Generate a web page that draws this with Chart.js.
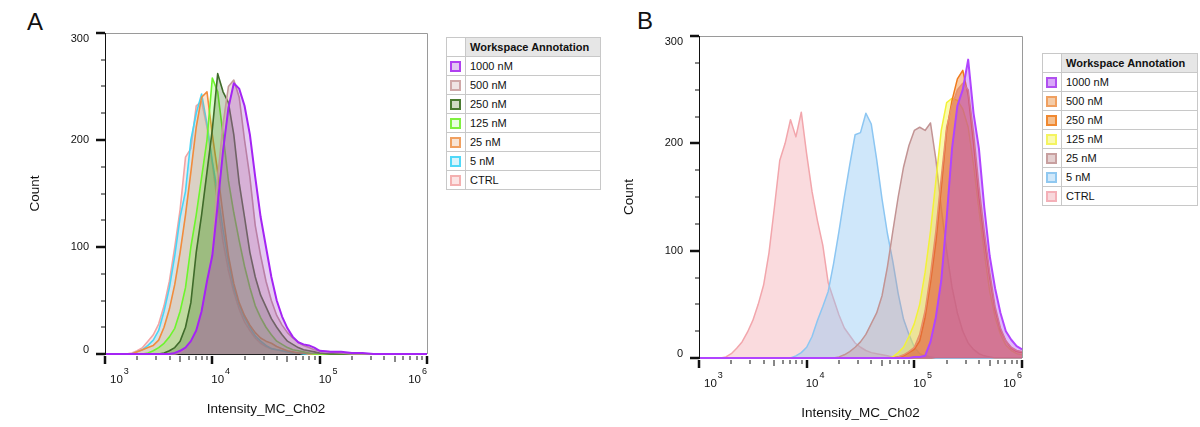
<!DOCTYPE html>
<html>
<head>
<meta charset="utf-8">
<title>Intensity_MC_Ch02 overlays</title>
<script src="https://cdn.jsdelivr.net/npm/chart.js@4.4.1/dist/chart.umd.min.js"></script>
<style>
    body { margin: 0; background: #fff; font-family: 'Liberation Sans', Arial, sans-serif; color: #111; }
    #page { position: relative; width: 1200px; height: 427px; overflow: hidden; }
    .plot { position: absolute; top: 0; height: 427px; }
    .tag { position: absolute; font-size: 24px; line-height: 24px; }
    .key { position: absolute; border-collapse: collapse; font-size: 11px; border: 1px solid #8c8c8c; }
    .key td { border: 1px solid #c8c8c8; height: 18px; padding: 0 0 0 4px; white-space: nowrap; }
    .key td.sw { width: 15px; padding: 0 0 0 3px; }
    .key th { height: 18px; border: 1px solid #c8c8c8; text-align: left; padding: 0 0 0 4px; background: #e6e6e6; }
    .key th.sw { background: #fff; }
    .box { width: 7px; height: 7px; border: 2px solid #000; }
</style>
</head>
<body>
<div id="page">
    <div class="tag" style="left:27px; top:10px;">A</div>
    <div class="tag" style="left:637px; top:9px;">B</div>
    <div class="plot" style="left:0; width:440px;"><canvas id="chartA" width="440" height="427"></canvas></div>
    <div class="plot" style="left:605px; width:435px;"><canvas id="chartB" width="435" height="427"></canvas></div>
    <table class="key" id="keyA" style="left:446px; top:37px; width:155px;"></table>
    <table class="key" id="keyB" style="left:1042px; top:53px; width:156px;"></table>
</div>

<script>
// log10 bin centres for panel A
const binsA = [
    3.0, 3.2, 3.25, 3.3, 3.35, 3.4, 3.45, 3.5, 3.55, 3.6, 3.65,
    3.7, 3.75, 3.8, 3.85, 3.9, 3.95, 4.0, 4.05, 4.1, 4.15, 4.2,
    4.25, 4.3, 4.35, 4.4, 4.45, 4.5, 4.55, 4.6, 4.65, 4.7, 4.75,
    4.8, 4.85, 4.9, 4.95, 5.0, 5.1, 5.2, 5.3, 5.4, 5.5, 6.0
];

// panel A counts per bin
const a1000 = [
    0, 0, 0, 0, 0, 0, 0, 0, 0, 0, 1,
    3, 6, 12, 22, 40, 68, 92, 140, 190, 230, 253,
    248, 232, 205, 165, 128, 100, 72, 50, 35, 24, 16,
    11, 9, 8, 6, 3, 2, 2, 1, 1, 0, 0
];
const a500 = [
    0, 0, 0, 0, 0, 0, 0, 0, 0, 0, 0,
    1, 5, 12, 22, 40, 65, 95, 165, 215, 250, 256,
    240, 200, 165, 120, 92, 68, 50, 36, 27, 20, 15,
    11, 8, 6, 4, 3, 2, 1, 0, 0, 0, 0
];
const a250 = [
    0, 0, 0, 0, 0, 0, 0, 0, 1, 3, 6,
    12, 25, 48, 95, 130, 170, 210, 262, 245, 235, 205,
    160, 128, 95, 72, 55, 44, 33, 25, 18, 12, 9,
    6, 4, 3, 2, 1, 0, 0, 0, 0, 0, 0
];
const a125 = [
    0, 0, 0, 0, 0, 1, 3, 6, 10, 16, 24,
    40, 62, 100, 130, 165, 200, 258, 245, 205, 162, 132,
    106, 82, 62, 45, 34, 25, 18, 12, 9, 6, 4,
    3, 2, 1, 0, 0, 0, 0, 0, 0, 0, 0
];
const a25 = [
    0, 0, 0, 2, 4, 6, 8, 13, 25, 42, 65,
    95, 130, 170, 212, 240, 245, 205, 170, 130, 92, 66,
    48, 36, 27, 20, 15, 12, 10, 7, 5, 3, 2,
    1, 1, 0, 0, 0, 0, 0, 0, 0, 0, 0
];
const a5 = [
    0, 0, 0, 2, 4, 8, 13, 22, 40, 62, 92,
    128, 152, 200, 225, 243, 215, 180, 150, 116, 86, 62,
    46, 34, 25, 17, 12, 8, 5, 4, 3, 2, 1,
    1, 0, 0, 0, 0, 0, 0, 0, 0, 0, 0
];
const aCtrl = [
    0, 0, 1, 3, 6, 12, 18, 28, 45, 68, 100,
    135, 184, 192, 232, 236, 212, 178, 140, 105, 78, 58,
    42, 30, 22, 15, 10, 7, 5, 4, 3, 2, 1,
    1, 1, 0, 0, 0, 0, 0, 0, 0, 0, 0
];

// log10 bin centres for panel B
const binsB = [
    3.0,
    3.2, 3.25, 3.3, 3.35, 3.4, 3.45, 3.5, 3.55, 3.6, 3.65,
    3.7, 3.75, 3.8, 3.85, 3.9, 3.95, 4.0, 4.05, 4.1, 4.15,
    4.2, 4.25, 4.3, 4.35, 4.4, 4.45, 4.5, 4.55, 4.6, 4.65,
    4.7, 4.75, 4.8, 4.85, 4.9, 4.95, 5.0, 5.05, 5.1, 5.15,
    5.2, 5.25, 5.3, 5.35, 5.4, 5.45, 5.5, 5.55, 5.6, 5.65,
    5.7, 5.75, 5.8, 5.85, 5.9, 5.95, 6.0
];

// panel B counts per bin
const b1000 = [
    0,
    0, 0, 0, 0, 0, 0, 0, 0, 0, 0,
    0, 0, 0, 0, 0, 0, 0, 0, 0, 0,
    0, 0, 0, 0, 0, 0, 0, 0, 0, 0,
    0, 0, 0, 0, 0, 0, 1, 1, 2, 15,
    38, 72, 130, 195, 235, 250, 278, 228, 195, 140,
    95, 65, 42, 25, 17, 11, 8
];
const b500 = [
    0,
    0, 0, 0, 0, 0, 0, 0, 0, 0, 0,
    0, 0, 0, 0, 0, 0, 0, 0, 0, 0,
    0, 0, 0, 0, 0, 0, 0, 0, 0, 0,
    0, 0, 0, 1, 3, 6, 10, 22, 44, 78,
    118, 168, 215, 235, 250, 256, 250, 210, 160, 118,
    80, 48, 28, 16, 10, 7, 6
];
const b250 = [
    0,
    0, 0, 0, 0, 0, 0, 0, 0, 0, 0,
    0, 0, 0, 0, 0, 0, 0, 0, 0, 0,
    0, 0, 0, 0, 0, 0, 0, 0, 0, 0,
    0, 0, 0, 1, 2, 5, 8, 16, 38, 70,
    108, 158, 212, 240, 260, 268, 245, 200, 150, 110,
    75, 45, 26, 16, 9, 6, 5
];
const b125 = [
    0,
    0, 0, 0, 0, 0, 0, 0, 0, 0, 0,
    0, 0, 0, 0, 0, 0, 0, 0, 0, 0,
    0, 0, 0, 0, 0, 0, 0, 0, 0, 0,
    0, 0, 1, 5, 10, 20, 32, 50, 80, 118,
    165, 212, 238, 242, 240, 232, 215, 180, 138, 98,
    62, 38, 22, 12, 7, 4, 3
];
const b25 = [
    0,
    0, 0, 0, 0, 0, 0, 0, 0, 0, 0,
    0, 0, 0, 0, 0, 0, 0, 0, 0, 0,
    0, 0, 1, 3, 6, 10, 15, 22, 32, 42,
    58, 85, 118, 150, 178, 198, 212, 215, 212, 219,
    185, 140, 100, 66, 42, 25, 14, 8, 4, 2,
    1, 0, 0, 0, 0, 0, 0
];
const b5 = [
    0,
    0, 0, 0, 0, 0, 0, 0, 0, 0, 0,
    0, 0, 0, 0, 2, 5, 10, 20, 35, 48,
    62, 88, 118, 150, 180, 208, 210, 228, 218, 185,
    148, 116, 90, 60, 36, 22, 10, 4, 2, 1,
    0, 0, 0, 0, 0, 0, 0, 0, 0, 0,
    0, 0, 0, 0, 0, 0, 0
];
const bCtrl = [
    0,
    0, 1, 4, 9, 15, 24, 35, 50, 68, 98,
    140, 184, 200, 222, 206, 229, 190, 155, 128, 105,
    70, 55, 40, 28, 21, 14, 10, 7, 5, 4,
    3, 2, 1, 1, 0, 0, 0, 0, 0, 0,
    0, 0, 0, 0, 0, 0, 0, 0, 0, 0,
    0, 0, 0, 0, 0, 0, 0
];

const groups = ['1000 nM', '500 nM', '250 nM', '125 nM', '25 nM', '5 nM', 'CTRL'];
const yTicks = [0, 100, 200, 300];
const decades = [3, 4, 5, 6];

const panelA = {
    counts: [a1000, a500, a250, a125, a25, a5, aCtrl],
    line: ['#a424f4', '#c49a9a', '#3f6b2a', '#6cf52c', '#f28c3c', '#48d6f6', '#f2a4a4'],
    fill: ['rgba(150,40,200,0.24)', 'rgba(190,140,140,0.3)', 'rgba(63,107,42,0.28)',
           'rgba(108,245,44,0.24)', 'rgba(242,140,60,0.22)', 'rgba(72,214,246,0.22)', 'rgba(242,164,164,0.25)'],
    keyLine: ['#b040f0', '#d0a8a8', '#4a7a30', '#80f040', '#f0a060', '#50d8f8', '#f4b0b0'],
    keyFill: ['#e2c8f2', '#f0e4e4', '#d2dcc4', '#e8ffe0', '#f8e4d4', '#d8f4fc', '#fce4e4'],
    width: [2, 1.6, 1.6, 1.6, 1.6, 1.6, 1.6]
};
const panelB = {
    counts: [b1000, b500, b250, b125, b25, b5, bCtrl],
    line: ['#b144ff', '#e8906a', '#f07a1c', '#f2f238', '#c29494', '#8cc6f2', '#f2a6ac'],
    fill: ['rgba(170,60,240,0.35)', 'rgba(220,90,80,0.45)', 'rgba(240,122,28,0.4)',
           'rgba(242,242,56,0.4)', 'rgba(194,148,148,0.35)', 'rgba(140,198,242,0.42)', 'rgba(242,166,172,0.4)'],
    keyLine: ['#b050f0', '#f0a060', '#f08830', '#f4f460', '#c8a0a0', '#90c8f0', '#f4b0b8'],
    keyFill: ['#d8a8f8', '#f4cca8', '#f4c090', '#fafab0', '#e4d0d0', '#d0e8fa', '#f8d8dc'],
    width: [2, 1.5, 1.5, 1.5, 1.5, 1.5, 1.5]
};

const FONT = "'Liberation Sans', Arial, sans-serif";

// FlowJo-style frame, ticks and labels
const axisPainter = {
    id: 'axisPainter',
    beforeDatasetsDraw(chart) {
        const { ctx, chartArea: a } = chart;
        ctx.save();
        ctx.strokeStyle = '#9a9a9a';
        ctx.lineWidth = 1;
        ctx.beginPath();
        ctx.moveTo(a.left, a.top + 0.5);
        ctx.lineTo(a.right + 0.5, a.top + 0.5);
        ctx.lineTo(a.right + 0.5, a.bottom);
        ctx.stroke();
        ctx.strokeStyle = '#222';
        ctx.beginPath();
        ctx.moveTo(a.left, a.bottom + 0.5);
        ctx.lineTo(a.right, a.bottom + 0.5);
        ctx.stroke();
        ctx.restore();
    },
    afterDraw(chart) {
        const { ctx, chartArea: a, scales } = chart;
        const x = scales.x, y = scales.y;
        ctx.save();
        ctx.strokeStyle = '#111';
        ctx.fillStyle = '#111';

        // left axis line
        ctx.lineWidth = 1;
        ctx.beginPath();
        ctx.moveTo(a.left + 0.5, a.top);
        ctx.lineTo(a.left + 0.5, a.bottom + 1);
        ctx.stroke();

        // count ticks every 25
        for (let v = 0; v <= 300; v += 25) {
            const py = Math.round(y.getPixelForValue(v));
            const major = v % 100 === 0;
            ctx.lineWidth = major ? 2.5 : 1;
            ctx.beginPath();
            ctx.moveTo(a.left - (major ? 9 : 4), py);
            ctx.lineTo(a.left, py);
            ctx.stroke();
        }
        ctx.font = '11px ' + FONT;
        ctx.textAlign = 'right';
        ctx.textBaseline = 'middle';
        yTicks.forEach(v => {
            let py = y.getPixelForValue(v);
            if (v === 300) py += 6;
            if (v === 0) py -= 4;
            ctx.fillText(String(v), a.left - 16, py);
        });

        // log ticks along the bottom
        for (let d = 3; d <= 6; d++) {
            for (let m = 1; m <= 9; m++) {
                const val = m * Math.pow(10, d);
                if (val > 1e6) break;
                const px = Math.round(x.getPixelForValue(val));
                const len = m === 1 ? 8 : (m === 5 ? 6 : 4);
                ctx.lineWidth = m === 1 ? 2.5 : 1;
                ctx.beginPath();
                ctx.moveTo(px, a.bottom + 2);
                ctx.lineTo(px, a.bottom + 2 + len);
                ctx.stroke();
            }
        }
        decades.forEach((d, i) => {
            const px = x.getPixelForValue(Math.pow(10, d));
            ctx.font = '11.5px ' + FONT;
            const w10 = ctx.measureText('10').width;
            ctx.font = '9px ' + FONT;
            const wExp = ctx.measureText(String(d)).width;
            let left = px - 1;
            if (i === 0) left = px + 5;
            if (i === decades.length - 1) left = px - w10 - wExp - 1;
            ctx.textAlign = 'left';
            ctx.textBaseline = 'alphabetic';
            ctx.font = '11.5px ' + FONT;
            ctx.fillText('10', left, a.bottom + 29);
            ctx.font = '9px ' + FONT;
            ctx.fillText(String(d), left + w10 + 1, a.bottom + 20);
        });

        // axis titles
        ctx.font = '13.5px ' + FONT;
        ctx.textAlign = 'center';
        ctx.textBaseline = 'middle';
        ctx.fillText('Intensity_MC_Ch02', (a.left + a.right) / 2, a.bottom + 55);
        ctx.translate(a.left - 70, (a.top + a.bottom) / 2);
        ctx.rotate(-Math.PI / 2);
        ctx.fillText('Count', 0, 0);
        ctx.restore();
    }
};

function toPoints(bins, counts) {
    return bins.map((e, i) => ({ x: Math.pow(10, e), y: counts[i] }));
}

function buildChart(canvasId, bins, panel, padding) {
    const datasets = groups.map((name, i) => ({
        label: name,
        data: toPoints(bins, panel.counts[i]),
        borderColor: panel.line[i],
        backgroundColor: panel.fill[i],
        borderWidth: panel.width[i],
        fill: 'origin',
        pointRadius: 0,
        tension: 0,
        borderJoinStyle: 'round',
        clip: false
    }));

    return new Chart(document.getElementById(canvasId), {
        type: 'line',
        data: { datasets },
        options: {
            responsive: false,
            animation: false,
            layout: { padding },
            plugins: { legend: { display: false }, tooltip: { enabled: false } },
            scales: {
                x: { type: 'logarithmic', min: 1000, max: 1000000, display: false },
                y: { type: 'linear', min: 0, max: 300, display: false }
            }
        },
        plugins: [axisPainter]
    });
}

function buildKey(tableId, panel) {
    const table = document.getElementById(tableId);
    let html = '<tr><th class="sw"></th><th>Workspace Annotation</th></tr>';
    groups.forEach((name, i) => {
        html += '<tr><td class="sw"><div class="box" style="border-color:' + panel.keyLine[i] +
            ';background:' + panel.keyFill[i] + '"></div></td><td>' + name + '</td></tr>';
    });
    table.innerHTML = html;
}

buildChart('chartA', binsA, panelA, { left: 105, right: 13, top: 33, bottom: 73 });
buildChart('chartB', binsB, panelB, { left: 94, right: 18, top: 36, bottom: 69 });
buildKey('keyA', panelA);
buildKey('keyB', panelB);
</script>
</body>
</html>
